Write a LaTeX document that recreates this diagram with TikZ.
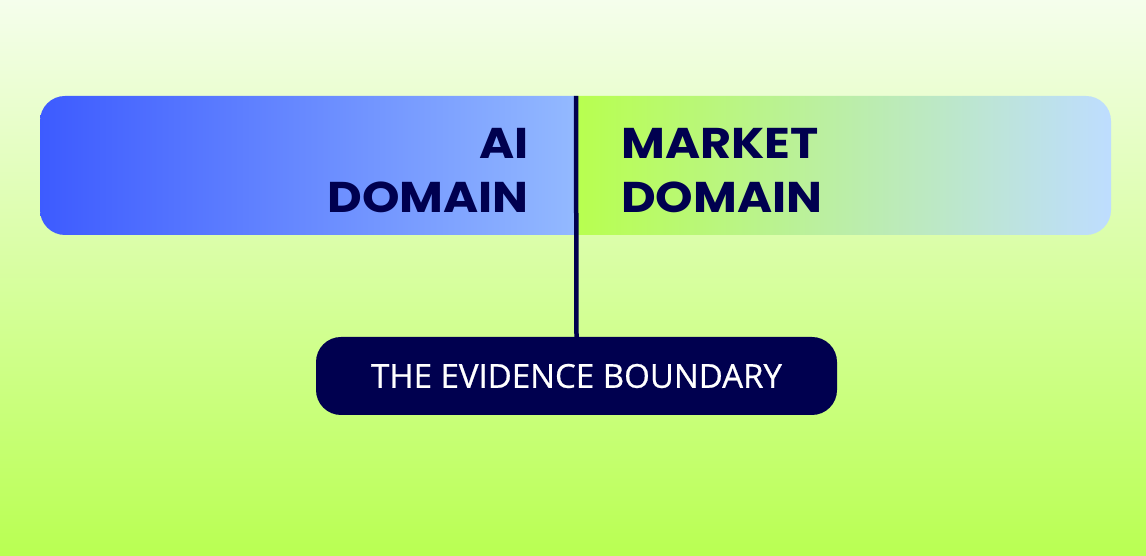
\documentclass[tikz,border=0pt]{standalone}
\usepackage{fontspec}
\newfontfamily\dispfont{Poppins}[FakeStretch=1.11]
\newfontfamily\labfont{Open Sans}[FakeBold=0.6]
\definecolor{bgtop}{HTML}{F5FEEC}
\definecolor{bgbot}{HTML}{B9FF52}
\definecolor{blueL}{HTML}{3D5BFF}
\definecolor{blueR}{HTML}{93B9FF}
\definecolor{greenL}{HTML}{B8FF4F}
\definecolor{greenR}{HTML}{BEDDFF}
\definecolor{navy}{HTML}{00004F}
\tikzset{
  domtext/.style={inner sep=0pt, text=navy, font=\dispfont\bfseries\fontsize{43}{54}\selectfont},
  evbox/.style={fill=navy, rounded corners=25pt, minimum width=521pt, minimum height=78pt, inner sep=0pt,
    text=white, font=\labfont\fontsize{33}{40}\selectfont},
  divider/.style={draw=navy, line width=4.5pt}
}
\begin{document}
\begin{tikzpicture}[x=1pt,y=1pt]
\useasboundingbox (0,0) rectangle (1146,556);
\shade[top color=bgtop, bottom color=bgbot] (0,0) rectangle (1146,556);
% left box
\shade[left color=blueL, right color=blueR]
  (576,460) -- (65,460) arc[start angle=90,end angle=180,radius=25] -- (40,346)
  arc[start angle=180,end angle=270,radius=25] -- (576,321) -- cycle;
% right box
\shade[left color=greenL, right color=greenR]
  (576,460) -- (1086,460) arc[start angle=90,end angle=0,radius=25] -- (1111,346)
  arc[start angle=0,end angle=-90,radius=25] -- (576,321) -- cycle;
\node[domtext, anchor=north east, align=right] (ai) at (529,428) {AI\\DOMAIN};
\node[domtext, anchor=north west, align=left] (mk) at (621,428) {MARKET\\DOMAIN};
\node[evbox] (ev) at (576.5,180) {THE EVIDENCE BOUNDARY};
\coordinate (top) at (576,460);
\draw[divider] (top) -- (ev.north);
\end{tikzpicture}
\end{document}
